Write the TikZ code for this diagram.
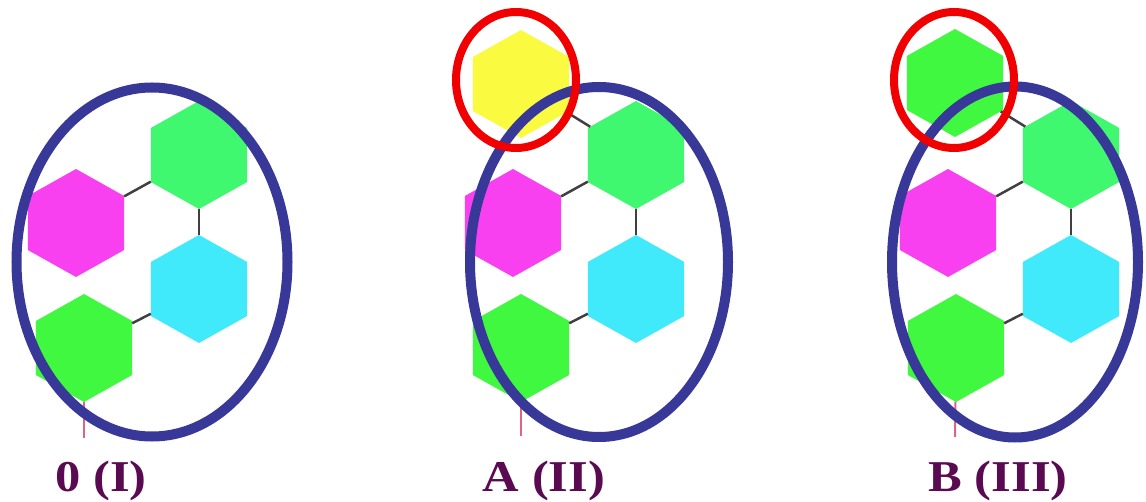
\documentclass[tikz,border=0pt]{standalone}
\usepackage{fontspec}
\setmainfont{Liberation Serif}
\usepackage{xcolor}
\usetikzlibrary{shapes.geometric}
\definecolor{hexgreen}{RGB}{64,248,112}
\definecolor{leafgreen}{RGB}{64,248,64}
\definecolor{hexpink}{RGB}{248,64,240}
\definecolor{hexcyan}{RGB}{64,234,250}
\definecolor{hexyellow}{RGB}{250,250,64}
\definecolor{ringblue}{RGB}{56,56,152}
\definecolor{ringred}{RGB}{240,0,0}
\definecolor{labelpurple}{RGB}{90,10,80}
\definecolor{stempink}{RGB}{220,100,140}

\begin{document}
\begin{tikzpicture}[
    x=1pt, y=-1pt,
    hex/.style={regular polygon, regular polygon sides=6, shape border rotate=30,
        minimum size=108pt, inner sep=0pt, outer sep=0pt, xscale=1.03},
    bond/.style={draw=black!75, line width=2.5pt},
    stem/.style={draw=stempink, line width=2pt},
    bluering/.style={ellipse, draw=ringblue, line width=10pt, inner sep=0pt},
    redring/.style={ellipse, draw=ringred, line width=8pt, inner sep=0pt,
        minimum width=120pt, minimum height=136pt},
    lbl/.style={anchor=base, xscale=1.15, text=labelpurple, font=\fontsize{44}{48}\selectfont\bfseries}
]
\useasboundingbox (0,0) rectangle (1146,502);

% panel I
\node[hex, fill=hexgreen] (g1) at (199,155) {};
\node[hex, fill=hexpink] (m1) at (76,223) {};
\node[hex, fill=hexcyan] (c1) at (199,289) {};
\node[hex, fill=leafgreen] (b1) at (84,348) {};
\coordinate (t1) at (84,438);
\draw[bond] (m1) -- (g1);
\draw[bond] (g1) -- (c1);
\draw[bond] (c1) -- (b1);
\draw[stem] (b1) -- (t1);
\node[bluering, minimum width=271pt, minimum height=349pt] (o1) at (152,262) {};
\node[lbl] (n1) at (101,491) {0 (I)};

% panel II
\node[hex, fill=hexyellow] (y2) at (521,84) {};
\node[hex, fill=hexgreen] (g2) at (636,155) {};
\node[hex, fill=hexpink] (m2) at (513,223) {};
\node[hex, fill=hexcyan] (c2) at (636,289) {};
\node[hex, fill=leafgreen] (b2) at (521,348) {};
\coordinate (t2) at (521,436);
\draw[bond] (y2) -- (g2);
\draw[bond] (m2) -- (g2);
\draw[bond] (g2) -- (c2);
\draw[bond] (c2) -- (b2);
\draw[stem] (b2) -- (t2);
\node[bluering, minimum width=258pt, minimum height=350pt] (o2) at (599,262) {};
\node[redring] (r2) at (516,80) {};
\node[lbl] (n2) at (544,491) {A (II)};

% panel III
\node[hex, fill=leafgreen] (y3) at (955,83) {};
\node[hex, fill=hexgreen] (g3) at (1071,155) {};
\node[hex, fill=hexpink] (m3) at (948,223) {};
\node[hex, fill=hexcyan] (c3) at (1071,289) {};
\node[hex, fill=leafgreen] (b3) at (956,348) {};
\coordinate (t3) at (955,437);
\draw[bond] (y3) -- (g3);
\draw[bond] (m3) -- (g3);
\draw[bond] (g3) -- (c3);
\draw[bond] (c3) -- (b3);
\draw[stem] (b3) -- (t3);
\node[bluering, minimum width=246pt, minimum height=351pt] (o3) at (1015,262) {};
\node[redring] (r3) at (954,80) {};
\node[lbl] (n3) at (998,491) {B (III)};
\end{tikzpicture}
\end{document}
